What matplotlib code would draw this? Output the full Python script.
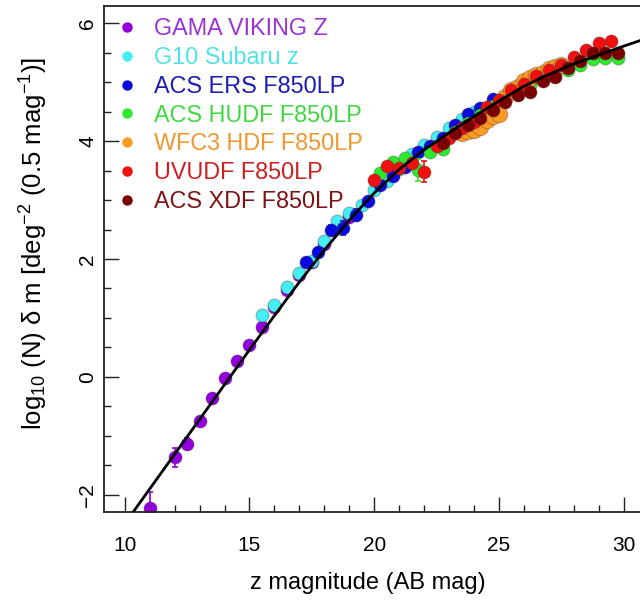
import matplotlib
matplotlib.use('Agg')
import matplotlib.pyplot as plt
from matplotlib.lines import Line2D
from matplotlib.ticker import MultipleLocator

plt.rcParams['font.family'] = ['Liberation Sans', 'DejaVu Sans']
plt.rcParams['mathtext.fontset'] = 'custom'
plt.rcParams['mathtext.rm'] = 'Liberation Sans'
plt.rcParams['mathtext.it'] = 'Liberation Sans:italic'

labels = ['GAMA VIKING Z', 'G10 Subaru z', 'ACS ERS F850LP', 'ACS HUDF F850LP',
          'WFC3 HDF F850LP', 'UVUDF F850LP', 'ACS XDF F850LP']
marker_colors = ['#9400DD', '#44EEF2', '#0A0ADD', '#2EEA2E', '#FF9A22', '#F01010', '#7A0000']
text_colors = ['#9A33D6', '#50E2E8', '#1C1CB0', '#40D840', '#F0962E', '#CC1F1F', '#7B1414']

gama_mag = [11.0, 12.0, 12.5, 13.0, 13.5, 14.0, 14.5, 15.0, 15.5, 16.0, 16.5, 17.0, 17.5, 18.0, 18.5, 19.0]
gama_val = [-2.23, -1.36, -1.13, -0.75, -0.35, -0.01, 0.27, 0.55, 0.85, 1.19, 1.48, 1.73, 1.95, 2.26, 2.52, 2.72]
gama_err = [0.28, 0.16, 0.1, 0.05, 0.04, 0.03, 0.03, 0.02, 0.02, 0.02, 0.02, 0.02, 0.02, 0.02, 0.02, 0.02]

g10_mag = [15.5, 16.0, 16.5, 17.0, 17.5, 18.0, 18.5, 19.0, 19.5, 20.0, 20.5, 21.0, 21.5, 22.0, 22.5, 23.0, 23.5, 24.0]
g10_val = [1.05, 1.22, 1.52, 1.76, 1.96, 2.30, 2.64, 2.78, 2.92, 3.17, 3.33, 3.52, 3.78, 3.93, 4.07, 4.22, 4.38, 4.50]

ers_mag = [17.25, 17.75, 18.25, 18.75, 19.25, 19.75, 20.25, 20.75, 21.25, 21.75, 22.25, 22.75, 23.25, 23.75, 24.25, 24.75]
ers_val = [1.95, 2.12, 2.49, 2.53, 2.75, 2.99, 3.25, 3.40, 3.56, 3.82, 3.92, 4.05, 4.28, 4.46, 4.56, 4.72]
ers_err = [0.05, 0.05, 0.08, 0.12, 0.1, 0.05, 0.05, 0.05, 0.05, 0.05, 0.05, 0.05, 0.05, 0.05, 0.05, 0.05]

hudf_mag = [20.25, 20.75, 21.25, 21.75, 22.25, 22.75, 23.25, 23.75, 24.25, 24.75, 25.25, 25.75,
            26.25, 26.75, 27.25, 27.75, 28.25, 28.75, 29.25, 29.75]
hudf_val = [3.45, 3.65, 3.71, 3.51, 3.82, 3.86, 4.16, 4.30, 4.45, 4.60, 4.70, 4.85,
            4.95, 5.05, 5.12, 5.20, 5.29, 5.39, 5.40, 5.41]
hudf_err = [0.05, 0.05, 0.05, 0.18, 0.05, 0.05, 0.05, 0.05, 0.05, 0.05, 0.05, 0.05,
            0.05, 0.05, 0.05, 0.05, 0.05, 0.05, 0.05, 0.05]

wfc3_mag = [23.5, 23.75, 24.0, 24.25, 24.5, 24.75, 25.0, 25.25, 25.5, 25.75, 26.0, 26.25,
            26.5, 26.75, 27.0, 27.25, 27.5]
wfc3_val = [4.14, 4.17, 4.19, 4.24, 4.36, 4.42, 4.46, 4.74, 4.86, 4.92, 5.02, 5.07,
            5.12, 5.16, 5.22, 5.26, 5.29]

uvudf_mag = [20.0, 20.5, 21.0, 21.5, 22.0, 22.5, 23.0, 23.5, 24.0, 24.5, 25.0, 25.5, 26.0,
             26.5, 27.0, 27.5, 28.0, 28.5, 29.0, 29.5]
uvudf_val = [3.34, 3.58, 3.55, 3.63, 3.48, 3.92, 4.05, 4.22, 4.32, 4.58, 4.70, 4.86, 4.97,
             5.10, 5.21, 5.29, 5.43, 5.55, 5.66, 5.69]
uvudf_err = [0.05, 0.05, 0.05, 0.05, 0.18, 0.05, 0.05, 0.05, 0.05, 0.05, 0.05, 0.05, 0.05,
             0.05, 0.05, 0.05, 0.05, 0.05, 0.05, 0.05]

xdf_mag = [22.75, 23.25, 23.75, 24.25, 24.75, 25.25, 25.75, 26.25, 26.75, 27.25, 27.75,
           28.25, 28.75, 29.25, 29.75]
xdf_val = [3.97, 4.14, 4.27, 4.39, 4.53, 4.67, 4.78, 4.84, 5.01, 5.09, 5.24, 5.36, 5.49, 5.49, 5.49]

model_mag = [10, 11, 12, 13, 14, 15, 16, 17, 18, 19, 20, 21, 22, 23, 24, 25, 26, 27, 28, 29, 30, 30.7]
model_val = [-2.49, -1.90, -1.31, -0.72, -0.13, 0.46, 1.04, 1.61, 2.15, 2.66, 3.12, 3.52, 3.85,
             4.14, 4.42, 4.68, 4.93, 5.13, 5.31, 5.46, 5.61, 5.71]

xlabel = 'z magnitude (AB mag)'
ylabel = 'log$_{10}$ (N) δ m [deg$^{-2}$ (0.5 mag$^{-1}$)]'

fig = plt.figure(figsize=(6.4, 6.05), dpi=100)
ax = fig.add_axes([104 / 640, 93 / 605, 536 / 640, 506 / 605])

edge = (0.25, 0.25, 0.25, 0.35)
series = [
    (gama_mag, gama_val, gama_err, 88),
    (g10_mag, g10_val, None, 88),
    (ers_mag, ers_val, ers_err, 88),
    (hudf_mag, hudf_val, hudf_err, 88),
    (wfc3_mag, wfc3_val, None, 140),
    (uvudf_mag, uvudf_val, uvudf_err, 88),
    (xdf_mag, xdf_val, None, 88),
]
for i, (m, v, e, s) in enumerate(series):
    if e is not None:
        ax.errorbar(m, v, yerr=e, fmt='none', ecolor=marker_colors[i], elinewidth=1.2,
                    capsize=2.5, capthick=1.2, zorder=2 + i * 0.1)
    ax.scatter(m, v, s=s, color=marker_colors[i], edgecolors=[edge], linewidths=0.8,
               zorder=2.05 + i * 0.1)

ax.plot(model_mag, model_val, color='black', lw=2.0, zorder=5)

ax.set_xlim(9.17, 30.65)
ax.set_ylim(-2.29, 6.29)
ax.xaxis.set_major_locator(MultipleLocator(5))
ax.xaxis.set_minor_locator(MultipleLocator(1))
ax.yaxis.set_major_locator(MultipleLocator(2))
ax.yaxis.set_minor_locator(MultipleLocator(0.5))
ax.tick_params(which='both', direction='in', width=1.0, color='#222222')
ax.tick_params(which='major', length=11)
ax.tick_params(which='minor', length=5)
ax.tick_params(axis='x', which='major', labelsize=15, pad=17)
ax.tick_params(axis='y', which='major', labelsize=15, pad=5, labelrotation=90)
for lab in ax.get_yticklabels():
    lab.set_va('center')
ax.spines['right'].set_visible(False)
for sp in ['left', 'bottom', 'top']:
    ax.spines[sp].set_linewidth(1.3)
    ax.spines[sp].set_color('#222222')

ax.set_xlabel(xlabel, fontsize=17)
ax.xaxis.set_label_coords(0.493, -0.118)
ax.set_ylabel(ylabel, fontsize=18.5)
ax.yaxis.set_label_coords(-0.1, 0.53)

handles = [Line2D([], [], ls='none', marker='o', markersize=7.5, color=c, markeredgewidth=0)
           for c in marker_colors]
ax.legend(handles, labels, loc='upper left', bbox_to_anchor=(0.0205, 0.978), frameon=False,
          fontsize=16.8, labelcolor=text_colors, handlelength=1.0, handletextpad=0.66,
          labelspacing=0.25, borderaxespad=0, borderpad=0)

fig.savefig('out.png', dpi=100)
